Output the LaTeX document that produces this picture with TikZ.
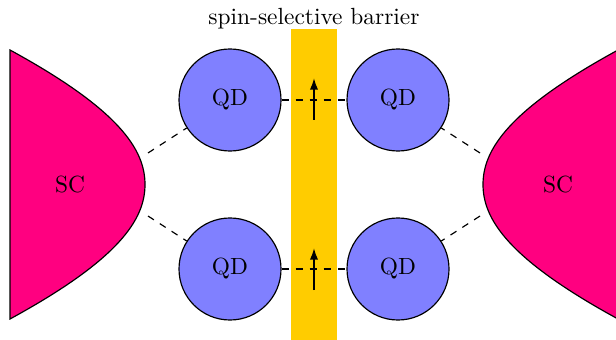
\documentclass[tikz,border=0pt]{standalone}
\usetikzlibrary{arrows.meta}
\definecolor{scpink}{RGB}{255,0,128}
\definecolor{qdblue}{RGB}{128,128,255}
\definecolor{barrier}{RGB}{255,204,0}
\begin{document}
\begin{tikzpicture}[x=0.4274pt,y=-0.4274pt,
  sc/.style={fill=scpink,draw=black,line width=0.5pt},
  qd/.style={circle,fill=qdblue,draw=black,line width=0.5pt,inner sep=0pt,minimum size=43.6pt},
  link/.style={dashed,line width=0.5pt},
  spin/.style={-{Latex[length=5pt,width=3.6pt]},line width=0.8pt}]
  \useasboundingbox (0,0) rectangle (616,340);

  % spin-selective barrier
  \fill[barrier] (291,29) rectangle (337,345);
  \node[anchor=base] (title) at (314,25) {spin-selective barrier};

  % superconducting leads
  \draw[sc] (10,50) .. controls (120,110) and (145,150) .. (145,184.5)
            .. controls (145,219) and (120,259) .. (10,319) -- cycle;
  \draw[sc] (618,50) .. controls (508,110) and (483,150) .. (483,184.5)
            .. controls (483,219) and (508,259) .. (618,319) -- cycle;
  \node (scL) at (70,185) {SC};
  \node (scR) at (558,185) {SC};

  % quantum dots
  \node[qd] (qd1) at (230,100) {QD};
  \node[qd] (qd2) at (398,100) {QD};
  \node[qd] (qd3) at (230,269) {QD};
  \node[qd] (qd4) at (398,269) {QD};

  % couplings
  \coordinate (lt) at (148,153);
  \coordinate (lb) at (148,216);
  \coordinate (rt) at (480,153);
  \coordinate (rb) at (480,216);
  \draw[link] (lt) -- (qd1);
  \draw[link] (lb) -- (qd3);
  \draw[link] (rt) -- (qd2);
  \draw[link] (rb) -- (qd4);
  \draw[link] (qd1) -- (qd2);
  \draw[link] (qd3) -- (qd4);

  % spin orientation
  \coordinate (s1a) at (314,120);
  \coordinate (s1b) at (314,78);
  \coordinate (s2a) at (314,290);
  \coordinate (s2b) at (314,248);
  \draw[spin] (s1a) -- (s1b);
  \draw[spin] (s2a) -- (s2b);
\end{tikzpicture}
\end{document}
